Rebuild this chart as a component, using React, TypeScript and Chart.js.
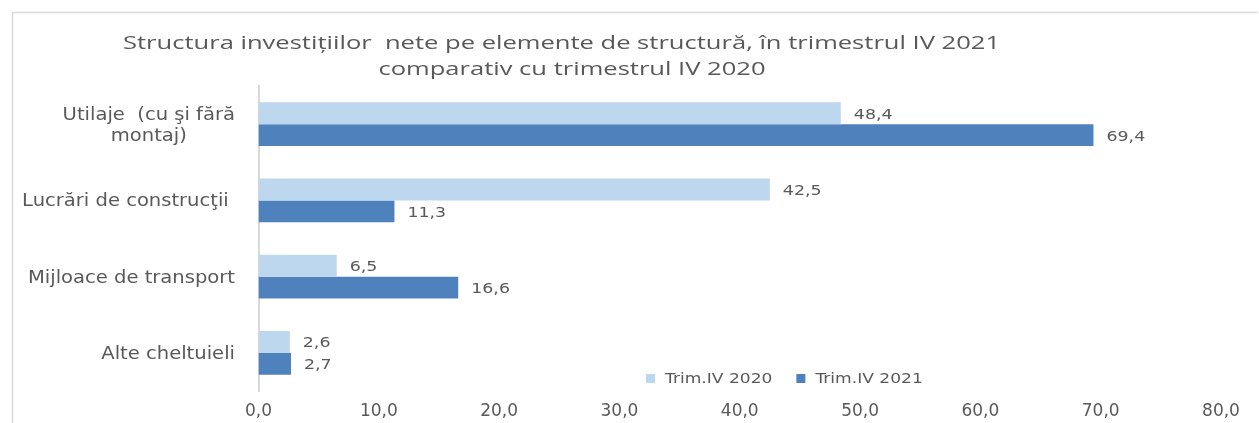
import React, { useEffect, useRef } from "react";
import { Chart, registerables } from "chart.js";

Chart.register(...registerables);

const titleLines = [
  "Structura investițiilor  nete pe elemente de structură, în trimestrul IV 2021",
  "comparativ cu trimestrul IV 2020",
];
const categories: (string | string[])[] = [
  ["Utilaje  (cu şi fără", "montaj)"],
  "Lucrări de construcţii ",
  "Mijloace de transport",
  "Alte cheltuieli",
];
const seriesNames = ["Trim.IV 2020", "Trim.IV 2021"];
const values2020 = [48.4, 42.5, 6.5, 2.6];
const values2021 = [69.4, 11.3, 16.6, 2.7];
const seriesColors = ["#BDD7EE", "#4F81BD"];
const axisMin = 0;
const axisMax = 80;
const axisStep = 10;

const TEXT = "#595959";
const fmt = (v: number) => v.toFixed(1).replace(".", ",");

function stretchText(
  ctx: CanvasRenderingContext2D,
  text: string,
  x: number,
  y: number,
  sx: number,
  align: CanvasTextAlign
) {
  ctx.save();
  ctx.translate(x, y);
  ctx.scale(sx, 1);
  ctx.textAlign = align;
  ctx.textBaseline = "alphabetic";
  ctx.fillText(text, 0, 0);
  ctx.restore();
}

const decorPlugin = {
  id: "decor",
  beforeDraw(chart: any) {
    const ctx: CanvasRenderingContext2D = chart.ctx;
    ctx.save();
    ctx.fillStyle = "#ffffff";
    ctx.fillRect(0, 0, chart.width, chart.height);
    ctx.strokeStyle = "#d9d9d9";
    ctx.lineWidth = 1.5;
    ctx.beginPath();
    ctx.moveTo(12.5, chart.height);
    ctx.lineTo(12.5, 12.5);
    ctx.lineTo(chart.width - 1, 12.5);
    ctx.stroke();

    // title
    ctx.fillStyle = TEXT;
    ctx.font = "18px 'Open Sans'";
    const w1 = ctx.measureText(titleLines[0]).width;
    const sx = 877 / w1;
    stretchText(ctx, titleLines[0], 123, 48.5, sx, "left");
    stretchText(ctx, titleLines[1], 572, 74.5, sx, "center");
    ctx.restore();
  },
  afterDatasetsDraw(chart: any) {
    const ctx: CanvasRenderingContext2D = chart.ctx;
    const yScale = chart.scales.y;
    ctx.save();
    ctx.fillStyle = TEXT;

    // category labels
    const catSx = 1.15;
    ctx.font = "17px 'DejaVu Sans'";
    categories.forEach((cat, i) => {
      const yc = yScale.getPixelForValue(i);
      const lines = Array.isArray(cat) ? cat : [cat];
      const right = 235;
      if (lines.length === 1) {
        stretchText(ctx, lines[0], right, yc + 6, catSx, "right");
      } else {
        const bw = Math.max(...lines.map((l) => ctx.measureText(l).width * catSx));
        const cx = right - bw / 2;
        lines.forEach((l, k) => {
          stretchText(ctx, l, cx, yc + 6 + (k - (lines.length - 1) / 2) * 21, catSx, "center");
        });
      }
    });

    // data labels
    ctx.font = "14.5px 'DejaVu Sans'";
    chart.data.datasets.forEach((ds: any, d: number) => {
      const meta = chart.getDatasetMeta(d);
      meta.data.forEach((el: any, i: number) => {
        stretchText(ctx, fmt(ds.data[i]), el.x + 13, el.y + 5.5, 1.2, "left");
      });
    });

    // legend
    ctx.font = "14px 'DejaVu Sans'";
    let lx = 646;
    seriesNames.forEach((name, k) => {
      ctx.fillStyle = seriesColors[k];
      ctx.fillRect(lx, 374, 9, 9);
      ctx.fillStyle = TEXT;
      const tx = lx + 19;
      stretchText(ctx, name, tx, 383, 1.22, "left");
      lx = tx + ctx.measureText(name).width * 1.22 + 24;
    });
    ctx.restore();
  },
};

export default function App() {
  const ref = useRef<HTMLCanvasElement>(null);
  useEffect(() => {
    if (!ref.current) return;
    const chart = new Chart(ref.current, {
      type: "bar",
      data: {
        labels: categories.map((c) => (Array.isArray(c) ? c.join(" ") : c)),
        datasets: [
          {
            label: seriesNames[0],
            data: values2020,
            backgroundColor: seriesColors[0],
            borderWidth: 0,
            categoryPercentage: 0.576,
            barPercentage: 1,
          },
          {
            label: seriesNames[1],
            data: values2021,
            backgroundColor: seriesColors[1],
            borderWidth: 0,
            categoryPercentage: 0.576,
            barPercentage: 1,
          },
        ],
      },
      options: {
        indexAxis: "y",
        responsive: false,
        animation: false,
        devicePixelRatio: 1,
        layout: { padding: { top: 86, right: 38, bottom: 0, left: 0 } },
        plugins: {
          legend: { display: false },
          title: { display: false },
          tooltip: { enabled: false },
        },
        scales: {
          x: {
            min: axisMin,
            max: axisMax,
            grid: { display: false, drawTicks: false },
            border: { display: false },
            ticks: {
              stepSize: axisStep,
              padding: 10,
              color: TEXT,
              font: { family: "'DejaVu Sans'", size: 17 },
              callback: (v: any) => fmt(Number(v)),
              maxRotation: 0,
            },
            afterFit: (s: any) => {
              s.height = 32;
            },
          },
          y: {
            grid: { display: false, drawTicks: false },
            border: { display: true, color: "#d9d9d9", width: 2 },
            ticks: { display: false },
            afterFit: (s: any) => {
              s.width = 258.5;
            },
          },
        },
      },
      plugins: [decorPlugin],
    });
    return () => chart.destroy();
  }, []);
  return (
    <div style={{ position: "absolute", left: 0, top: 0, width: 1259, height: 423 }}>
      <canvas ref={ref} width={1259} height={423} style={{ display: "block" }} />
    </div>
  );
}
